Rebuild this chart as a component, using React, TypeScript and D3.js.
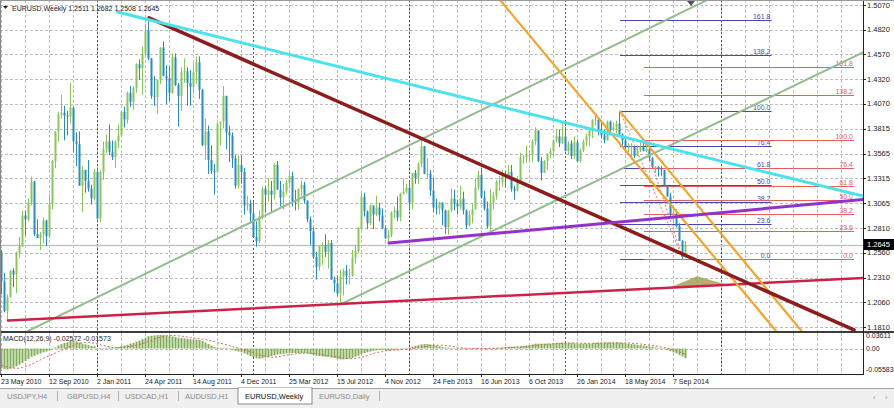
import * as d3 from "d3";
import React from "react";

type Candle = [number, number, number, number]; // open, high, low, close
type Pt = [number, number]; // bar index, price

const symbolName = "EURUSD,Weekly";

// weekly bars, first bar = week of 23 May 2010
const candles2010: Candle[] = [
  [1.257, 1.259, 1.2143, 1.227], [1.227, 1.2355, 1.196, 1.197], [1.197, 1.214, 1.1876, 1.211],
  [1.211, 1.2388, 1.211, 1.2382], [1.2382, 1.2405, 1.2212, 1.234], [1.234, 1.2574, 1.2152, 1.2563],
  [1.2563, 1.2723, 1.251, 1.264], [1.264, 1.2985, 1.262, 1.294], [1.294, 1.299, 1.2735, 1.29],
  [1.29, 1.311, 1.288, 1.307], [1.307, 1.3333, 1.304, 1.328], [1.328, 1.329, 1.273, 1.275],
  [1.275, 1.29, 1.271, 1.271], [1.271, 1.277, 1.2588, 1.275], [1.275, 1.292, 1.266, 1.289],
  [1.289, 1.2895, 1.263, 1.273], [1.273, 1.316, 1.2715, 1.305], [1.305, 1.35, 1.3, 1.349],
  [1.349, 1.379, 1.342, 1.379], [1.379, 1.399, 1.369, 1.396], [1.396, 1.416, 1.392, 1.398],
  [1.398, 1.405, 1.37, 1.395], [1.395, 1.4, 1.375, 1.394], [1.394, 1.4282, 1.387, 1.403],
  [1.403, 1.404, 1.358, 1.369], [1.369, 1.378, 1.344, 1.366], [1.366, 1.379, 1.324, 1.324],
  [1.324, 1.344, 1.297, 1.34], [1.34, 1.34, 1.317, 1.329], [1.329, 1.35, 1.318, 1.321],
  [1.321, 1.325, 1.305, 1.311], [1.311, 1.341, 1.309, 1.338],
];
const candles2011: Candle[] = [
  [1.338, 1.342, 1.29, 1.291], [1.291, 1.34, 1.287, 1.338], [1.338, 1.369, 1.33, 1.361],
  [1.361, 1.376, 1.357, 1.369], [1.369, 1.386, 1.355, 1.358], [1.358, 1.37, 1.35, 1.353],
  [1.353, 1.37, 1.342, 1.369], [1.369, 1.386, 1.362, 1.375], [1.375, 1.4, 1.374, 1.399],
  [1.399, 1.404, 1.383, 1.391], [1.391, 1.419, 1.387, 1.418], [1.418, 1.425, 1.404, 1.409],
  [1.409, 1.425, 1.401, 1.423], [1.423, 1.448, 1.418, 1.447], [1.447, 1.452, 1.431, 1.443],
  [1.443, 1.465, 1.416, 1.458], [1.458, 1.488, 1.455, 1.481], [1.481, 1.494, 1.451, 1.453],
  [1.453, 1.453, 1.412, 1.415], [1.415, 1.435, 1.405, 1.414], [1.414, 1.431, 1.397, 1.431],
  [1.431, 1.464, 1.427, 1.464], [1.464, 1.47, 1.435, 1.435], [1.435, 1.446, 1.407, 1.433],
  [1.433, 1.445, 1.41, 1.418], [1.418, 1.458, 1.417, 1.454], [1.454, 1.458, 1.425, 1.426],
  [1.426, 1.428, 1.384, 1.415], [1.415, 1.444, 1.4, 1.439], [1.439, 1.453, 1.428, 1.44],
  [1.44, 1.444, 1.405, 1.428], [1.428, 1.441, 1.405, 1.424], [1.424, 1.448, 1.417, 1.439],
  [1.439, 1.455, 1.427, 1.449], [1.449, 1.455, 1.412, 1.421], [1.421, 1.422, 1.364, 1.365],
  [1.365, 1.392, 1.35, 1.379], [1.379, 1.385, 1.336, 1.35], [1.35, 1.365, 1.336, 1.339],
  [1.339, 1.346, 1.315, 1.338], [1.338, 1.387, 1.337, 1.387], [1.387, 1.388, 1.365, 1.389],
  [1.389, 1.425, 1.382, 1.415], [1.415, 1.415, 1.361, 1.378], [1.378, 1.385, 1.348, 1.375],
  [1.375, 1.378, 1.342, 1.352], [1.352, 1.355, 1.321, 1.324], [1.324, 1.355, 1.321, 1.345],
  [1.345, 1.355, 1.326, 1.338], [1.338, 1.342, 1.295, 1.304], [1.304, 1.314, 1.299, 1.306],
  [1.306, 1.31, 1.286, 1.296],
];
const candles2012: Candle[] = [
  [1.296, 1.308, 1.272, 1.272], [1.272, 1.288, 1.2624, 1.268], [1.268, 1.299, 1.266, 1.293],
  [1.293, 1.323, 1.29, 1.321], [1.321, 1.323, 1.297, 1.315], [1.315, 1.332, 1.308, 1.319],
  [1.319, 1.329, 1.297, 1.315], [1.315, 1.347, 1.31, 1.345], [1.345, 1.349, 1.32, 1.32],
  [1.32, 1.329, 1.303, 1.312], [1.312, 1.326, 1.3, 1.318], [1.318, 1.33, 1.315, 1.327],
  [1.327, 1.339, 1.321, 1.334], [1.334, 1.338, 1.303, 1.308], [1.308, 1.32, 1.299, 1.307],
  [1.307, 1.321, 1.3, 1.321], [1.321, 1.329, 1.313, 1.325], [1.325, 1.328, 1.306, 1.309],
  [1.309, 1.309, 1.287, 1.29], [1.29, 1.293, 1.264, 1.278], [1.278, 1.282, 1.25, 1.252],
  [1.252, 1.257, 1.229, 1.242], [1.242, 1.263, 1.238, 1.263], [1.263, 1.267, 1.244, 1.264],
  [1.264, 1.275, 1.252, 1.257], [1.257, 1.269, 1.24, 1.266], [1.266, 1.269, 1.229, 1.229],
  [1.229, 1.232, 1.216, 1.225], [1.225, 1.233, 1.212, 1.215], [1.215, 1.239, 1.2042, 1.232],
  [1.232, 1.24, 1.213, 1.238], [1.238, 1.244, 1.224, 1.233], [1.233, 1.24, 1.224, 1.233],
  [1.233, 1.259, 1.232, 1.251], [1.251, 1.264, 1.245, 1.258], [1.258, 1.282, 1.256, 1.281],
  [1.281, 1.317, 1.279, 1.313], [1.313, 1.317, 1.293, 1.298], [1.298, 1.299, 1.28, 1.286],
  [1.286, 1.305, 1.284, 1.304], [1.304, 1.304, 1.28, 1.295], [1.295, 1.314, 1.293, 1.302],
  [1.302, 1.307, 1.288, 1.294], [1.294, 1.301, 1.28, 1.281], [1.281, 1.284, 1.27, 1.271],
  [1.271, 1.279, 1.266, 1.274], [1.274, 1.298, 1.272, 1.297], [1.297, 1.303, 1.291, 1.299],
  [1.299, 1.313, 1.288, 1.292], [1.292, 1.317, 1.288, 1.316], [1.316, 1.331, 1.315, 1.318],
  [1.318, 1.326, 1.316, 1.322],
];
const candles2013: Candle[] = [
  [1.322, 1.33, 1.3, 1.307], [1.307, 1.337, 1.3, 1.337], [1.337, 1.34, 1.326, 1.332],
  [1.332, 1.348, 1.326, 1.346], [1.346, 1.371, 1.343, 1.364], [1.364, 1.364, 1.336, 1.336],
  [1.336, 1.352, 1.331, 1.336], [1.336, 1.34, 1.314, 1.319], [1.319, 1.332, 1.297, 1.302],
  [1.302, 1.311, 1.295, 1.301], [1.301, 1.308, 1.295, 1.307], [1.307, 1.307, 1.284, 1.299],
  [1.299, 1.3, 1.275, 1.282], [1.282, 1.299, 1.2745, 1.299], [1.299, 1.321, 1.297, 1.311],
  [1.311, 1.32, 1.299, 1.306], [1.306, 1.31, 1.295, 1.303], [1.303, 1.324, 1.3, 1.311],
  [1.311, 1.318, 1.295, 1.299], [1.299, 1.3, 1.28, 1.284], [1.284, 1.299, 1.283, 1.294],
  [1.294, 1.306, 1.286, 1.3], [1.3, 1.331, 1.3, 1.322], [1.322, 1.339, 1.32, 1.335],
  [1.335, 1.342, 1.311, 1.312], [1.312, 1.319, 1.299, 1.301], [1.301, 1.308, 1.281, 1.283],
  [1.283, 1.321, 1.2755, 1.307], [1.307, 1.318, 1.3, 1.314], [1.314, 1.33, 1.31, 1.328],
  [1.328, 1.334, 1.319, 1.328], [1.328, 1.34, 1.323, 1.334], [1.334, 1.339, 1.322, 1.333],
  [1.333, 1.345, 1.331, 1.338], [1.338, 1.345, 1.318, 1.321], [1.321, 1.324, 1.31, 1.319],
  [1.319, 1.334, 1.318, 1.329], [1.329, 1.357, 1.329, 1.352], [1.352, 1.355, 1.346, 1.353],
  [1.353, 1.365, 1.347, 1.355], [1.355, 1.359, 1.348, 1.355], [1.355, 1.371, 1.348, 1.369],
  [1.369, 1.3833, 1.365, 1.38], [1.38, 1.38, 1.348, 1.349], [1.349, 1.353, 1.3295, 1.337],
  [1.337, 1.35, 1.337, 1.349], [1.349, 1.357, 1.34, 1.356], [1.356, 1.362, 1.352, 1.359],
  [1.359, 1.371, 1.354, 1.37], [1.37, 1.381, 1.368, 1.374], [1.374, 1.381, 1.363, 1.367],
  [1.367, 1.3893, 1.366, 1.374],
];
const candles2014: Candle[] = [
  [1.374, 1.383, 1.359, 1.359], [1.359, 1.369, 1.355, 1.367], [1.367, 1.37, 1.351, 1.354],
  [1.354, 1.374, 1.351, 1.368], [1.368, 1.371, 1.348, 1.349], [1.349, 1.362, 1.3476, 1.36],
  [1.36, 1.371, 1.358, 1.369], [1.369, 1.377, 1.364, 1.374], [1.374, 1.383, 1.364, 1.38],
  [1.38, 1.391, 1.372, 1.391], [1.391, 1.3967, 1.385, 1.391], [1.391, 1.393, 1.375, 1.379],
  [1.379, 1.388, 1.372, 1.375], [1.375, 1.381, 1.367, 1.37], [1.37, 1.39, 1.37, 1.389],
  [1.389, 1.39, 1.379, 1.381], [1.381, 1.388, 1.379, 1.383], [1.383, 1.39, 1.377, 1.387],
  [1.387, 1.3993, 1.375, 1.376], [1.376, 1.377, 1.365, 1.37], [1.37, 1.373, 1.361, 1.363],
  [1.363, 1.367, 1.358, 1.363], [1.363, 1.367, 1.3503, 1.364], [1.364, 1.364, 1.352, 1.354],
  [1.354, 1.365, 1.354, 1.36], [1.36, 1.368, 1.358, 1.364], [1.364, 1.37, 1.359, 1.359],
  [1.359, 1.365, 1.358, 1.361], [1.361, 1.363, 1.349, 1.352], [1.352, 1.353, 1.342, 1.343],
  [1.343, 1.344, 1.337, 1.343], [1.343, 1.344, 1.3333, 1.341], [1.341, 1.344, 1.334, 1.34],
  [1.34, 1.34, 1.324, 1.324], [1.324, 1.324, 1.313, 1.313], [1.313, 1.317, 1.292, 1.295],
  [1.295, 1.299, 1.286, 1.296], [1.296, 1.3, 1.282, 1.283], [1.283, 1.286, 1.268, 1.268],
  [1.268, 1.269, 1.2501, 1.252], [1.2511, 1.2682, 1.2508, 1.2645],
];
const candles: Candle[] = [...candles2010, ...candles2011, ...candles2012, ...candles2013, ...candles2014];

const priceTicks = [1.507, 1.482, 1.457, 1.432, 1.407, 1.3815, 1.3565, 1.3315, 1.3065, 1.281, 1.256, 1.231, 1.206, 1.181];
const currentPrice = 1.2645;

const timeLabels = [
  "23 May 2010", "12 Sep 2010", "2 Jan 2011", "24 Apr 2011", "14 Aug 2011", "4 Dec 2011", "25 Mar 2012",
  "15 Jul 2012", "4 Nov 2012", "24 Feb 2013", "16 Jun 2013", "6 Oct 2013", "26 Jan 2014", "18 May 2014", "7 Sep 2014",
];
const timeLabelBars = [0, 16, 32, 48, 64, 80, 96, 112, 128, 144, 160, 176, 192, 208, 224];
const yearSeparatorBars = [32, 84, 136, 188, 240];

// MACD(12,26,9) in thousandths
const macdMainMilli = [
  -52, -55, -56, -54, -51, -47, -43, -38, -33, -28,
  -22, -19, -16, -13, -10, -8, -5, -1, 3, 8,
  12, 15, 17, 20, 20, 19, 16, 13, 11, 9,
  7, 6, 2, 1, 1, 2, 3, 3, 3, 4,
  6, 8, 10, 13, 15, 18, 21, 25, 29, 33,
  34, 35, 36, 36, 36, 35, 34, 32, 31, 29,
  28, 27, 26, 25, 24, 24, 23, 20, 16, 12,
  8, 4, 3, 2, 2, 1, -1, -3, -6, -8,
  -10, -13, -16, -20, -23, -26, -27, -26, -24, -22,
  -20, -18, -16, -15, -14, -13, -12, -12, -12, -12,
  -12, -12, -13, -15, -17, -19, -20, -21, -22, -22,
  -24, -26, -28, -29, -29, -28, -27, -25, -22, -19,
  -15, -12, -10, -8, -6, -5, -4, -4, -4, -5,
  -4, -3, -2, -1, 0, 1, 3, 5, 7, 9,
  11, 12, 12, 11, 10, 8, 6, 4, 3, 2,
  1, 1, 0, 0, 0, -1, -1, 0, 1, 2,
  2, 1, 0, 0, 1, 1, 2, 3, 4, 5,
  5, 5, 5, 6, 7, 8, 9, 11, 13, 13,
  13, 13, 13, 13, 14, 15, 15, 16, 16, 15,
  15, 14, 13, 13, 13, 13, 13, 14, 15, 16,
  16, 16, 16, 16, 16, 16, 16, 15, 14, 13,
  12, 11, 10, 9, 8, 7, 6, 5, 3, 2,
  0, -2, -4, -7, -10, -13, -17, -21, -25.72,
];
const macdSignalMilli = [
  -45, -47, -49, -51, -52, -53, -52, -50, -48, -45,
  -42, -38, -34, -30, -26, -22, -19, -15, -12, -8,
  -5, -1, 2, 6, 9, 12, 14, 15, 16, 16,
  15, 14, 12, 10, 8, 6, 5, 3, 3, 3,
  3, 4, 5, 6, 7, 9, 11, 13, 16, 19,
  22, 25, 28, 30, 32, 34, 35, 35, 35, 34,
  33, 32, 30, 29, 28, 27, 26, 25, 24, 22,
  20, 18, 16, 14, 12, 10, 8, 5, 3, 1,
  -2, -4, -6, -8, -11, -14, -17, -19, -21, -22,
  -23, -23, -22, -21, -19, -18, -16, -15, -14, -13,
  -13, -12, -12, -13, -13, -14, -15, -16, -18, -19,
  -20, -21, -22, -24, -25, -26, -27, -27, -26, -25,
  -23, -21, -19, -16, -13, -11, -9, -8, -6, -5,
  -5, -4, -4, -3, -3, -2, -1, 0, 1, 3,
  4, 5, 7, 8, 9, 9, 9, 9, 8, 7,
  6, 5, 3, 2, 1, 1, 0, 0, 0, 0,
  0, 0, 0, 1, 1, 1, 1, 1, 2, 2,
  3, 3, 4, 4, 5, 5, 6, 7, 8, 9,
  10, 11, 12, 12, 13, 13, 14, 14, 14, 15,
  15, 15, 15, 14, 14, 14, 14, 14, 14, 14,
  14, 15, 15, 15, 15, 15, 15, 15, 15, 15,
  14, 14, 13, 12, 11, 10, 9, 8, 7, 6,
  4, 3, 1, -1, -3, -6, -9, -12, -15.73,
];
const macdTicks = [0.03611, 0, -0.05583];

// drawn objects, as [bar index, price]
const cyanLine: Pt[] = [[38.5, 1.4999], [287, 1.3135]];
const maroonLine: Pt[] = [[49, 1.494], [284, 1.178]];
const greenUpper: Pt[] = [[8.7, 1.177], [235, 1.512]];
const greenLower: Pt[] = [[113, 1.2042], [287, 1.459]];
const purpleLine: Pt[] = [[129, 1.266], [287, 1.31]];
const orangeLeft: Pt[] = [[166, 1.512], [258, 1.177]];
const orangeRight: Pt[] = [[206, 1.3993], [266.5, 1.177]];
const crimsonLine: Pt[] = [[2, 1.1876], [287, 1.2306]];
const oliveTriangle: Pt[] = [[223, 1.2215], [231.7, 1.2325], [240.7, 1.2245]];

const fibLevels = [0, 23.6, 38.2, 50, 61.8, 76.4, 100, 138.2, 161.8];
const fibBlueAnchor: Pt[] = [[206, 1.3993], [227, 1.2501]];
const fibBlueEndBar = 256.5;
const fibRedAnchor: Pt[] = [[214, 1.37], [227, 1.2501]];
const fibRedEndBar = 284;

const tabNames = ["USDJPY,H4", "GBPUSD,H4", "USDCAD,H1", "AUDUSD,H1", "EURUSD,Weekly", "EURUSD,Daily"];

const App: React.FC = (): React.ReactElement => {
  const ref = React.useRef<SVGSVGElement>(null);

  React.useEffect(() => {
    const svg = d3.select(ref.current);
    svg.selectAll("*").remove();

    const font = "'Liberation Sans', Arial, sans-serif";
    const axisX = 863;
    const mainBottom = 331;
    const macdTop = 333;
    const macdBottom = 374;

    const x = d3.scaleLinear().domain([0, 287]).range([2, 863]);
    const y = d3.scaleLinear().domain([1.181, 1.507]).range([327, 5]);
    const ym = d3.scaleLinear().domain([-0.05583, 0.03611]).range([369.5, 335]);

    const bull = "#88c65c";
    const bear = "#2a8bbf";
    const gridColor = "#bdbdbd";

    svg.append("rect").attr("width", 894).attr("height", 408).attr("fill", "#ffffff");

    const defs = svg.append("defs");
    defs.append("clipPath").attr("id", "clip-main")
      .append("rect").attr("x", 1).attr("y", 1).attr("width", axisX - 1).attr("height", mainBottom - 1);
    defs.append("clipPath").attr("id", "clip-macd")
      .append("rect").attr("x", 1).attr("y", macdTop).attr("width", axisX - 1).attr("height", macdBottom - macdTop);

    const main = svg.append("g").attr("clip-path", "url(#clip-main)");
    const macd = svg.append("g").attr("clip-path", "url(#clip-macd)");

    // grid
    const vGridBars = d3.range(0, 288, 8);
    main.selectAll(null).data(priceTicks).enter().append("line")
      .attr("x1", 0).attr("x2", axisX)
      .attr("y1", (d) => Math.round(y(d)) + 0.5).attr("y2", (d) => Math.round(y(d)) + 0.5)
      .attr("stroke", gridColor).attr("stroke-dasharray", "3,2");
    [main, macd].forEach((pane, k) => {
      const top = k === 0 ? 0 : macdTop;
      const bottom = k === 0 ? mainBottom : macdBottom;
      pane.selectAll(null).data(vGridBars).enter().append("line")
        .attr("x1", (d) => x(d) - 0.5).attr("x2", (d) => x(d) - 0.5)
        .attr("y1", top).attr("y2", bottom)
        .attr("stroke", gridColor).attr("stroke-dasharray", "3,2");
      pane.selectAll(null).data(yearSeparatorBars).enter().append("line")
        .attr("x1", (d) => x(d) - 0.5).attr("x2", (d) => x(d) - 0.5)
        .attr("y1", top).attr("y2", bottom)
        .attr("stroke", "#555").attr("stroke-dasharray", "2,2");
    });

    // current price line
    main.append("line")
      .attr("x1", 0).attr("x2", axisX)
      .attr("y1", Math.round(y(currentPrice)) + 0.5).attr("y2", Math.round(y(currentPrice)) + 0.5)
      .attr("stroke", "#c4c4c4").attr("stroke-width", 1.5);

    const lineGen = d3.line<Pt>().x((d) => x(d[0])).y((d) => y(d[1]));

    // fibonacci levels
    const drawFib = (anchor: Pt[], endBar: number, color: string) => {
      const [[b0, hi], [, lo]] = anchor;
      const levels = fibLevels.map((l) => ({ l, p: lo + ((hi - lo) * l) / 100 }));
      main.append("path").attr("d", lineGen(anchor))
        .attr("stroke", "#e05a5a").attr("stroke-dasharray", "2,2").attr("fill", "none").attr("opacity", 0.8);
      main.selectAll(null).data(levels).enter().append("line")
        .attr("x1", x(b0)).attr("x2", x(endBar))
        .attr("y1", (d) => Math.round(y(d.p)) + 0.5).attr("y2", (d) => Math.round(y(d.p)) + 0.5)
        .attr("stroke", color);
      main.selectAll(null).data(levels).enter().append("text")
        .attr("x", x(endBar) - 1).attr("y", (d) => Math.round(y(d.p)) - 1)
        .attr("text-anchor", "end").attr("font-family", font).attr("font-size", 7)
        .attr("fill", color).text((d) => d.l.toFixed(1));
    };
    drawFib(fibBlueAnchor, fibBlueEndBar, "#4848b4");
    drawFib(fibRedAnchor, fibRedEndBar, "#e2605e");

    // candles
    const cg = main.append("g");
    const bars = candles.map((c, i) => ({ i, o: c[0], h: c[1], l: c[2], c: c[3] }));
    cg.selectAll(null).data(bars).enter().append("line")
      .attr("x1", (d) => x(d.i) - 0.5).attr("x2", (d) => x(d.i) - 0.5)
      .attr("y1", (d) => y(d.h)).attr("y2", (d) => y(d.l))
      .attr("stroke", (d) => (d.c >= d.o ? bull : bear));
    cg.selectAll(null).data(bars).enter().append("rect")
      .attr("x", (d) => x(d.i) - 1.5).attr("width", 2)
      .attr("y", (d) => y(Math.max(d.o, d.c)))
      .attr("height", (d) => Math.max(1, Math.abs(y(d.o) - y(d.c))))
      .attr("fill", (d) => (d.c >= d.o ? bull : bear));

    // trend lines
    const trend = (pts: Pt[], color: string, width: number) =>
      main.append("path").attr("d", lineGen(pts)).attr("stroke", color)
        .attr("stroke-width", width).attr("fill", "none").attr("stroke-linecap", "round");
    main.append("path").attr("d", lineGen(oliveTriangle) + "Z").attr("fill", "#a9a85e").attr("opacity", 0.9);
    trend(greenUpper, "#93bd8f", 2);
    trend(greenLower, "#93bd8f", 2);
    trend(crimsonLine, "#cc2248", 2.5);
    trend(orangeLeft, "#f2a52c", 2.2);
    trend(orangeRight, "#f2a52c", 2.2);
    trend(maroonLine, "#8c1d1d", 3.5);
    trend(purpleLine, "#9430cc", 3);
    trend(cyanLine, "#4ae2ec", 3);

    // chart shift marker
    const sx = x(candles.length) + 2;
    svg.append("path").attr("d", `M${sx - 4},1L${sx + 4},1L${sx},6Z`).attr("fill", "#555");

    // header
    const last = candles[candles.length - 1];
    svg.append("path").attr("d", "M3,6L8,6L5.5,9Z").attr("fill", "#222");
    svg.append("text").attr("x", 12).attr("y", 11).attr("font-family", font).attr("font-size", 7).attr("fill", "#222")
      .text(`${symbolName}  ${last.map((v) => v.toFixed(4)).join(" ")}`);

    // MACD pane
    const zeroY = ym(0);
    macd.append("line").attr("x1", 0).attr("x2", axisX)
      .attr("y1", Math.round(zeroY) + 0.5).attr("y2", Math.round(zeroY) + 0.5)
      .attr("stroke", gridColor).attr("stroke-dasharray", "3,2");
    macd.selectAll(null).data(macdMainMilli).enter().append("rect")
      .attr("x", (_d, i) => x(i) - 1.5).attr("width", 2)
      .attr("y", (d) => Math.min(zeroY, ym(d / 1000)))
      .attr("height", (d) => Math.max(0.6, Math.abs(ym(d / 1000) - zeroY)))
      .attr("fill", "#82ad58");
    const sigLine = d3.line<number>().x((_d, i) => x(i) - 0.5).y((d) => ym(d / 1000));
    macd.append("path").attr("d", sigLine(macdSignalMilli))
      .attr("stroke", "#e0605a").attr("stroke-dasharray", "2,2").attr("fill", "none");
    const mLast = macdMainMilli[macdMainMilli.length - 1] / 1000;
    const sLast = macdSignalMilli[macdSignalMilli.length - 1] / 1000;
    svg.append("text").attr("x", 3).attr("y", 341).attr("font-family", font).attr("font-size", 7).attr("fill", "#222")
      .text(`MACD(12,26,9) ${mLast.toFixed(5)} ${sLast.toFixed(5)}`);

    // frames
    svg.append("rect").attr("x", 0).attr("y", mainBottom).attr("width", 894).attr("height", 2).attr("fill", "#3c3c3c");
    svg.append("line").attr("x1", 0).attr("x2", axisX).attr("y1", macdBottom + 0.5).attr("y2", macdBottom + 0.5).attr("stroke", "#222");
    svg.append("line").attr("x1", axisX + 0.5).attr("x2", axisX + 0.5).attr("y1", 0).attr("y2", macdBottom + 1).attr("stroke", "#222");
    svg.append("line").attr("x1", 0.5).attr("x2", 0.5).attr("y1", 0).attr("y2", macdBottom).attr("stroke", "#888");
    svg.append("line").attr("x1", 0).attr("x2", 894).attr("y1", 0.5).attr("y2", 0.5).attr("stroke", "#999");

    // price axis
    svg.selectAll(null).data(priceTicks).enter().append("line")
      .attr("x1", axisX).attr("x2", axisX + 3)
      .attr("y1", (d) => Math.round(y(d)) + 0.5).attr("y2", (d) => Math.round(y(d)) + 0.5).attr("stroke", "#222");
    svg.selectAll(null).data(priceTicks).enter().append("text")
      .attr("x", 867).attr("y", (d) => y(d) + 2.5)
      .attr("font-family", font).attr("font-size", 7.5).attr("fill", "#222")
      .text((d) => d.toFixed(4));
    const cpY = y(currentPrice);
    svg.append("rect").attr("x", 864).attr("y", cpY - 5.5).attr("width", 30).attr("height", 11).attr("fill", "#000");
    svg.append("text").attr("x", 867).attr("y", cpY + 2.5).attr("font-family", font).attr("font-size", 7.5)
      .attr("fill", "#fff").text(currentPrice.toFixed(4));

    svg.selectAll(null).data(macdTicks).enter().append("text")
      .attr("x", 866).attr("y", (d) => ym(d) + 2.5)
      .attr("font-family", font).attr("font-size", 7).attr("fill", "#222")
      .text((d) => (d === 0 ? "0.00" : d.toFixed(5)));

    // time axis
    svg.selectAll(null).data(timeLabelBars).enter().append("line")
      .attr("x1", (d) => x(d) - 0.5).attr("x2", (d) => x(d) - 0.5)
      .attr("y1", macdBottom).attr("y2", macdBottom + 3).attr("stroke", "#222");
    svg.selectAll(null).data(timeLabels).enter().append("text")
      .attr("x", (_d, i) => x(timeLabelBars[i]) - 1).attr("y", 384)
      .attr("font-family", font).attr("font-size", 7).attr("fill", "#222")
      .text((d) => d);

    // tab bar
    svg.append("rect").attr("x", 0).attr("y", 388).attr("width", 894).attr("height", 20).attr("fill", "#f0f0f0");
    svg.append("line").attr("x1", 0).attr("x2", 894).attr("y1", 388.5).attr("y2", 388.5).attr("stroke", "#a0a0a0");
    const tabX = [7, 67, 125, 185, 245, 319];
    const sepX = [57, 118, 178, 379];
    svg.append("rect").attr("x", 238).attr("y", 388).attr("width", 74).attr("height", 16)
      .attr("fill", "#ffffff").attr("stroke", "#8a8a8a");
    svg.append("line").attr("x1", 239).attr("x2", 311).attr("y1", 388.5).attr("y2", 388.5).attr("stroke", "#ffffff");
    svg.selectAll(null).data(tabNames).enter().append("text")
      .attr("x", (_d, i) => tabX[i]).attr("y", 399)
      .attr("font-family", font).attr("font-size", 7.5)
      .attr("fill", (d) => (d === symbolName ? "#111" : "#8a8a8a"))
      .text((d) => d);
    svg.selectAll(null).data(sepX).enter().append("line")
      .attr("x1", (d) => d + 0.5).attr("x2", (d) => d + 0.5).attr("y1", 391).attr("y2", 401).attr("stroke", "#b0b0b0");
    svg.append("text").attr("x", 873).attr("y", 400).attr("font-family", font).attr("font-size", 8).attr("fill", "#999").text("‹");
    svg.append("text").attr("x", 885).attr("y", 400).attr("font-family", font).attr("font-size", 8).attr("fill", "#999").text("›");
  }, []);

  return (
    <div style={{ position: "absolute", left: 0, top: 0, width: 894, height: 408 }}>
      <svg ref={ref} width={894} height={408} style={{ display: "block" }} />
    </div>
  );
};

export default App;
